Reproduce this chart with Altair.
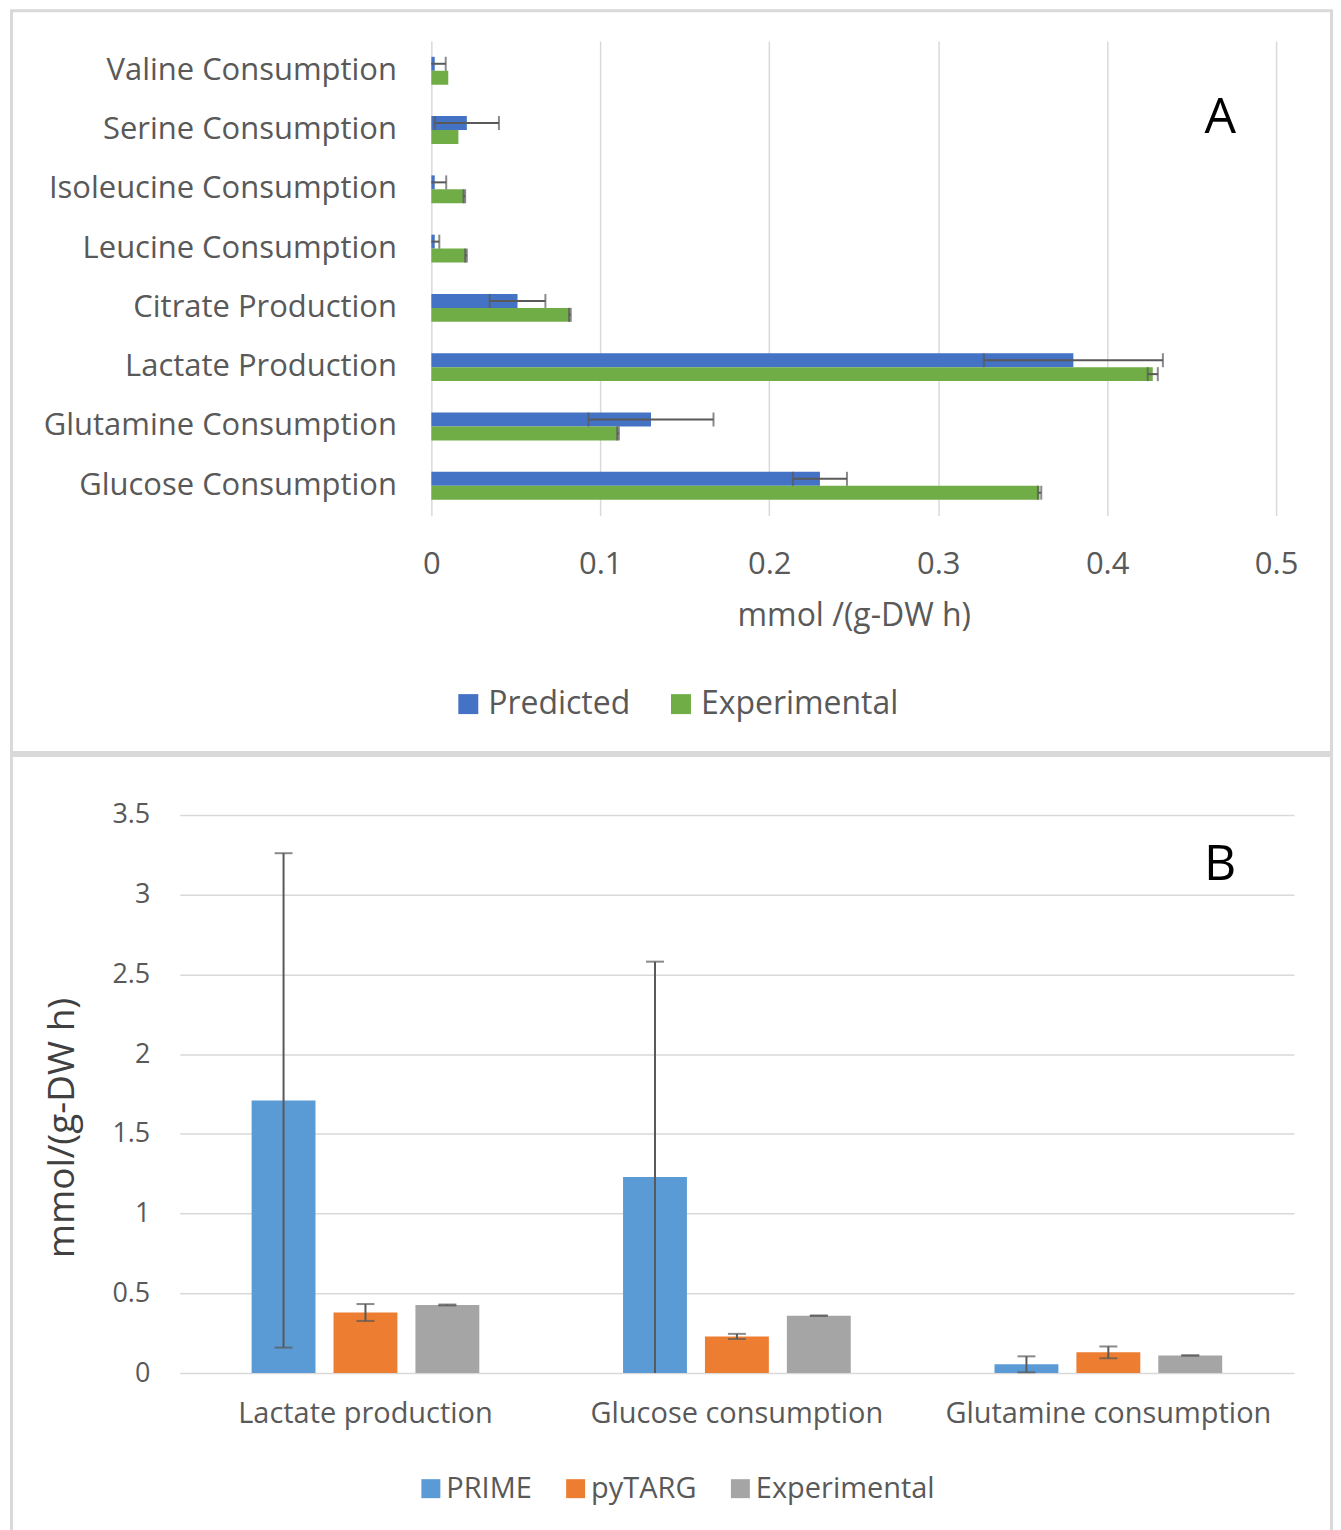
import altair as alt
import pandas as pd

# ---------------- Panel A data ----------------
a_categories = ["Valine Consumption", "Serine Consumption", "Isoleucine Consumption",
                "Leucine Consumption", "Citrate Production", "Lactate Production",
                "Glutamine Consumption", "Glucose Consumption"]
a_series = ["Predicted", "Experimental"]
a_predicted = [0.002, 0.021, 0.002, 0.002, 0.051, 0.380, 0.130, 0.230]
a_predicted_err = [0.0065, 0.019, 0.0068, 0.0027, 0.0165, 0.053, 0.037, 0.016]
a_experimental = [0.010, 0.016, 0.0195, 0.0205, 0.082, 0.427, 0.1105, 0.360]
a_experimental_err = [0.0, 0.0, 0.0005, 0.0005, 0.0005, 0.003, 0.0005, 0.001]
a_ticks = [0, 0.1, 0.2, 0.3, 0.4, 0.5]

# ---------------- Panel B data ----------------
b_categories = ["Lactate production", "Glucose consumption", "Glutamine consumption"]
b_series = ["PRIME", "pyTARG", "Experimental"]
b_prime = [1.71, 1.23, 0.055]
b_prime_err = [1.55, 1.35, 0.05]
b_pytarg = [0.38, 0.23, 0.13]
b_pytarg_err = [0.053, 0.016, 0.037]
b_experimental = [0.427, 0.360, 0.1105]
b_experimental_err = [0.003, 0.001, 0.0005]
b_ticks = [0, 0.5, 1, 1.5, 2, 2.5, 3, 3.5]

FONT = "Open Sans"
GRID = "#D9D9D9"
TXT = "#595959"
ERR = "#595959"


def build(cats, series_data):
    rows, caps = [], []
    for i, c in enumerate(cats):
        for s, vals, errs in series_data:
            v, e = vals[i], errs[i]
            rows.append(dict(cat=c, series=s, value=v, err=e, lo=max(0.0, v - e), hi=v + e))
            if e > 0:
                caps.append(dict(cat=c, series=s, pos=v + e))
                if v - e >= 0:
                    caps.append(dict(cat=c, series=s, pos=v - e))
    df = pd.DataFrame(rows)
    return df, df[df.err > 0], pd.DataFrame(caps)


df_a, df_a_err, caps_a = build(a_categories, [("Predicted", a_predicted, a_predicted_err),
                                              ("Experimental", a_experimental, a_experimental_err)])
df_b, df_b_err, caps_b = build(b_categories, [("PRIME", b_prime, b_prime_err),
                                              ("pyTARG", b_pytarg, b_pytarg_err),
                                              ("Experimental", b_experimental, b_experimental_err)])
one = pd.DataFrame({"k": [0]})
noview = alt.ViewBackground(stroke="transparent", strokeWidth=0, strokeOpacity=0)

# ---------------- Panel A ----------------
y_a = alt.Y("cat:N", sort=a_categories,
            scale=alt.Scale(domain=a_categories, paddingInner=0.53, paddingOuter=0.265),
            axis=alt.Axis(title=None, orient="left", offset=-252, labelPadding=35, ticks=False,
                          domain=False, labelFontSize=31, labelColor=TXT, labelFont=FONT,
                          labelLimit=600))
yoff_a = alt.YOffset("series:N", scale=alt.Scale(domain=a_series, paddingInner=0, paddingOuter=0))
x_a = alt.X("value:Q",
            scale=alt.Scale(domain=[0, 0.5], range=[252, 1098], nice=False),
            axis=alt.Axis(values=a_ticks, format="~g", grid=True, gridColor=GRID, gridWidth=1.5,
                          ticks=False, domain=False, labelFontSize=31, labelColor=TXT,
                          labelFont=FONT, labelPadding=34, labelFlush=False,
                          title="mmol /(g-DW h)",
                          titleFontSize=32, titleFontWeight="normal", titleColor=TXT,
                          titleFont=FONT, titleX=675, titlePadding=21))

frame_a = alt.Chart(one).mark_rect(filled=False, stroke=GRID, strokeWidth=3).encode(
    x=alt.value(-168.5), x2=alt.value(1153.5), y=alt.value(-30.5), y2=alt.value(712.5))
bars_a = alt.Chart(df_a).mark_bar().encode(
    x=x_a, y=y_a, yOffset=yoff_a,
    color=alt.Color("series:N", scale=alt.Scale(domain=a_series, range=["#4472C4", "#70AD47"]),
                    legend=alt.Legend(title=None, orient="none", legendX=273, legendY=648,
                                      direction="horizontal", symbolType="square",
                                      symbolSize=400, symbolStrokeWidth=0, labelFontSize=32,
                                      labelFont=FONT, labelColor=TXT, columnPadding=34,
                                      labelOffset=4, labelLimit=500)))
err_a = alt.Chart(df_a_err).mark_rule(color=ERR, strokeWidth=2).encode(
    x="lo:Q", x2="hi:Q", y=y_a, yOffset=yoff_a)
caps_a_ch = alt.Chart(caps_a).mark_tick(color=ERR, thickness=2, size=14).encode(
    x="pos:Q", y=y_a, yOffset=yoff_a)
label_a = alt.Chart(one).mark_text(text="A", fontSize=50, font=FONT, color="#000000").encode(
    x=alt.value(1042), y=alt.value(77))

panel_a = alt.layer(frame_a, bars_a, err_a, caps_a_ch, label_a).properties(
    width=1098, height=475, view=noview)

# ---------------- Panel B ----------------
x_b = alt.X("cat:N", sort=b_categories,
            scale=alt.Scale(domain=b_categories, paddingInner=0.387, paddingOuter=0.1935),
            axis=alt.Axis(title=None, labelAngle=0, ticks=False, domain=False, labelFontSize=29,
                          labelPadding=26, labelColor=TXT, labelFont=FONT, labelLimit=600))
xoff_b = alt.XOffset("series:N", scale=alt.Scale(domain=b_series, paddingInner=0.22, paddingOuter=0))
y_b = alt.Y("value:Q", scale=alt.Scale(domain=[0, 3.5], nice=False),
            axis=alt.Axis(values=b_ticks, format="~g", grid=True, gridColor=GRID, gridWidth=1.5,
                          domain=False, ticks=False, labelFontSize=27, labelPadding=30,
                          labelColor=TXT, labelFont=FONT, title="mmol/(g-DW h)",
                          titleFontSize=37, titleFontWeight="normal", titleColor="#404040",
                          titleFont=FONT, titlePadding=30, titleY=313))

frame_b = alt.Chart(one).mark_rect(filled=False, stroke=GRID, strokeWidth=3).encode(
    x=alt.value(-168.5), x2=alt.value(1153.5), y=alt.value(-59.5), y2=alt.value(722))
bars_b = alt.Chart(df_b).mark_bar().encode(
    x=x_b, y=y_b, xOffset=xoff_b,
    color=alt.Color("series:N",
                    scale=alt.Scale(domain=b_series, range=["#5B9BD5", "#ED7D31", "#A5A5A5"]),
                    legend=alt.Legend(title=None, orient="none", legendX=237, legendY=660,
                                      direction="horizontal", symbolType="square",
                                      symbolSize=361, symbolStrokeWidth=0, labelFontSize=29,
                                      labelFont=FONT, labelColor=TXT, columnPadding=29,
                                      labelOffset=1, labelLimit=500)))
err_b = alt.Chart(df_b_err).mark_rule(color=ERR, strokeWidth=2).encode(
    y="lo:Q", y2="hi:Q", x=x_b, xOffset=xoff_b)
caps_b_ch = alt.Chart(caps_b).mark_tick(color=ERR, thickness=2, size=18).encode(
    y="pos:Q", x=x_b, xOffset=xoff_b)
label_b = alt.Chart(one).mark_text(text="B", fontSize=50, font=FONT, color="#000000").encode(
    x=alt.value(1042), y=alt.value(50))

panel_b = alt.layer(frame_b, bars_b, err_b, caps_b_ch, label_b).properties(
    width=1116, height=559, view=noview)

chart = (alt.vconcat(panel_a, panel_b, spacing=0)
         .resolve_scale(color="independent")
         .properties(padding={"left": 2, "top": 0, "right": 0, "bottom": 0})
         .configure_view(stroke="transparent", strokeWidth=0)
         .configure(font=FONT, background="white"))

chart.save("out.html", embed_options={"renderer": "svg", "actions": False})
